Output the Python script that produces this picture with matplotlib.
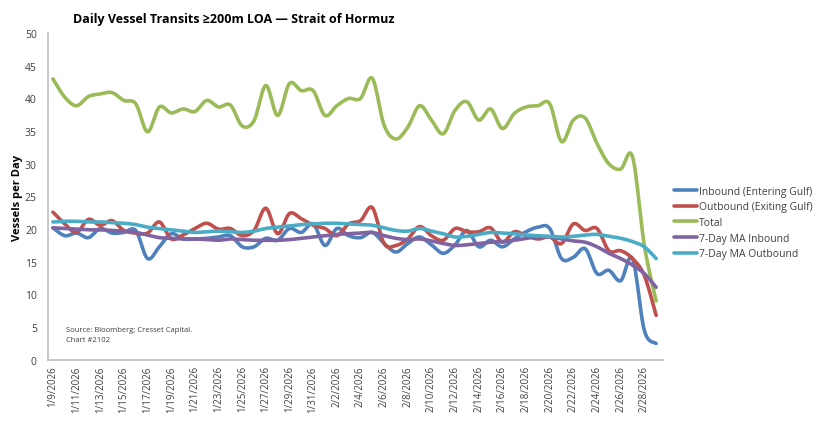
import matplotlib
matplotlib.use("Agg")
import matplotlib.pyplot as plt
import numpy as np
import pandas as pd

# daily series, 1/9/2026 .. 3/1/2026
start_date = "2026-01-09"
inbound = [20.2, 19.0, 19.4, 18.7, 20.1, 19.4, 19.5, 19.8, 15.5, 17.3,
           19.3, 18.5, 18.5, 18.6, 18.8, 19.0, 17.3, 17.3, 18.6, 18.3,
           20.1, 19.5, 20.8, 17.5, 20.1, 19.0, 18.7, 19.5, 17.8, 16.5,
           17.8, 18.8, 17.6, 16.3, 17.6, 19.8, 17.3, 18.3, 17.3, 18.5,
           19.6, 20.3, 20.1, 15.5, 15.7, 17.0, 13.2, 13.7, 12.1, 15.5,
           4.5, 2.5]
outbound = [22.6, 20.8, 19.5, 21.5, 20.6, 21.3, 19.8, 19.4, 19.4, 21.1,
            18.5, 19.1, 20.1, 20.9, 20.0, 20.1, 19.0, 19.8, 23.2, 19.3,
            22.4, 21.6, 20.6, 20.1, 19.0, 20.8, 21.3, 23.3, 17.8, 17.5,
            18.5, 20.4, 19.0, 18.3, 20.1, 19.6, 19.6, 20.2, 18.0, 19.6,
            19.0, 18.5, 18.8, 17.8, 20.8, 19.8, 20.1, 16.7, 16.7, 15.5,
            12.9, 6.8]
total = [43.0, 40.2, 38.9, 40.3, 40.7, 40.9, 39.7, 39.2, 34.9, 38.7,
         37.8, 38.4, 38.0, 39.7, 38.7, 39.0, 35.8, 36.6, 42.0, 37.4,
         42.3, 41.2, 41.2, 37.4, 38.9, 40.0, 40.0, 43.1, 35.9, 33.8,
         35.6, 38.9, 36.7, 34.6, 38.2, 39.5, 36.7, 38.4, 35.4, 37.7,
         38.7, 38.9, 39.2, 33.4, 36.7, 37.0, 33.1, 30.0, 29.2, 31.1,
         17.5, 9.0]
ma_inbound = [20.2, 20.1, 20.0, 19.9, 19.9, 19.8, 19.7, 19.5, 19.1, 18.7,
              18.6, 18.5, 18.5, 18.4, 18.3, 18.5, 18.4, 18.3, 18.3, 18.3,
              18.4, 18.6, 18.8, 19.0, 19.2, 19.3, 19.4, 19.5, 19.0, 18.6,
              18.4, 18.5, 18.2, 17.8, 17.5, 17.6, 17.8, 18.0, 18.1, 18.3,
              18.6, 18.8, 18.8, 18.5, 18.2, 18.0, 17.3, 16.3, 15.5, 14.5,
              13.2, 11.1]
ma_outbound = [21.1, 21.2, 21.2, 21.1, 21.1, 21.0, 20.9, 20.7, 20.3, 20.1,
               19.9, 19.7, 19.5, 19.6, 19.7, 19.6, 19.5, 19.7, 20.1, 20.3,
               20.5, 20.7, 20.8, 20.9, 20.9, 20.8, 20.7, 20.6, 20.2, 19.8,
               19.7, 20.1, 19.7, 19.3, 18.8, 18.9, 19.2, 19.5, 19.4, 19.3,
               19.1, 19.0, 18.9, 18.8, 18.9, 19.1, 19.2, 18.9, 18.6, 18.1,
               17.3, 15.5]

series = [
    ("Inbound (Entering Gulf)", inbound, "#4F81BD"),
    ("Outbound (Exiting Gulf)", outbound, "#C0504D"),
    ("Total", total, "#9BBB59"),
    ("7-Day MA Inbound", ma_inbound, "#8064A2"),
    ("7-Day MA Outbound", ma_outbound, "#4BACC6"),
]


def smooth(x, y, n=12):
    # Catmull-Rom path through the points, like Excel's "smoothed line"
    x = np.asarray(x, float)
    y = np.asarray(y, float)
    px = np.concatenate([[x[0]], x, [x[-1]]])
    py = np.concatenate([[y[0]], y, [y[-1]]])
    t = np.linspace(0, 1, n, endpoint=False)
    xs, ys = [], []
    for i in range(1, len(px) - 2):
        for arr, out in ((px, xs), (py, ys)):
            p0, p1, p2, p3 = arr[i - 1], arr[i], arr[i + 1], arr[i + 2]
            out.append(0.5 * (2 * p1 + (-p0 + p2) * t
                              + (2 * p0 - 5 * p1 + 4 * p2 - p3) * t ** 2
                              + (-p0 + 3 * p1 - 3 * p2 + p3) * t ** 3))
    return np.concatenate(xs + [[x[-1]]]), np.concatenate(ys + [[y[-1]]])


dates = pd.date_range(start_date, periods=len(total), freq="D")
days = np.arange(len(dates))

plt.rcParams["font.family"] = ["Open Sans", "DejaVu Sans"]

fig = plt.figure(figsize=(8.27, 4.27), dpi=100)
ax = fig.add_axes([0.058, 0.155, 0.744, 0.765])

for name, vals, color in series:
    sx, sy = smooth(days, vals)
    ax.plot(sx, sy, color=color, lw=2.6, label=name, solid_capstyle="round")

ax.set_xlim(-0.42, 51.6)
ax.set_ylim(0, 50)
ax.set_yticks(range(0, 51, 5))
ax.set_xticks(days[::2])
ax.set_xticklabels([f"{d.month}/{d.day}/{d.year}" for d in dates[::2]],
                   rotation=90, fontsize=7, color="#404040")
ax.tick_params(axis="y", labelsize=7.5, labelcolor="#404040", length=0, pad=8)
ax.tick_params(axis="x", length=0, pad=4)
for side in ("top", "right"):
    ax.spines[side].set_visible(False)
for side in ("left", "bottom"):
    ax.spines[side].set_color("#BFBFBF")
    ax.spines[side].set_linewidth(1.2)

ax.set_ylabel("Vessels per Day", fontsize=8, fontweight="bold", labelpad=1)
fig.text(0.088, 0.955, "Daily Vessel Transits \u2265200m LOA \u2014 Strait of Hormuz",
         fontsize=9, fontweight="bold", va="center", ha="left")
ax.text(0.03, 0.105, "Source: Bloomberg; Cresset Capital.\nChart #2102",
        transform=ax.transAxes, fontsize=5.5, va="top", ha="left",
        color="#404040", linespacing=1.6)

leg = ax.legend(loc="center left", bbox_to_anchor=(1.0, 0.42), frameon=False,
                fontsize=7.5, handlelength=2.2, handletextpad=0.2,
                labelspacing=0.45, borderaxespad=0.6)
for t in leg.get_texts():
    t.set_color("#404040")

fig.savefig("out.png", dpi=100)
